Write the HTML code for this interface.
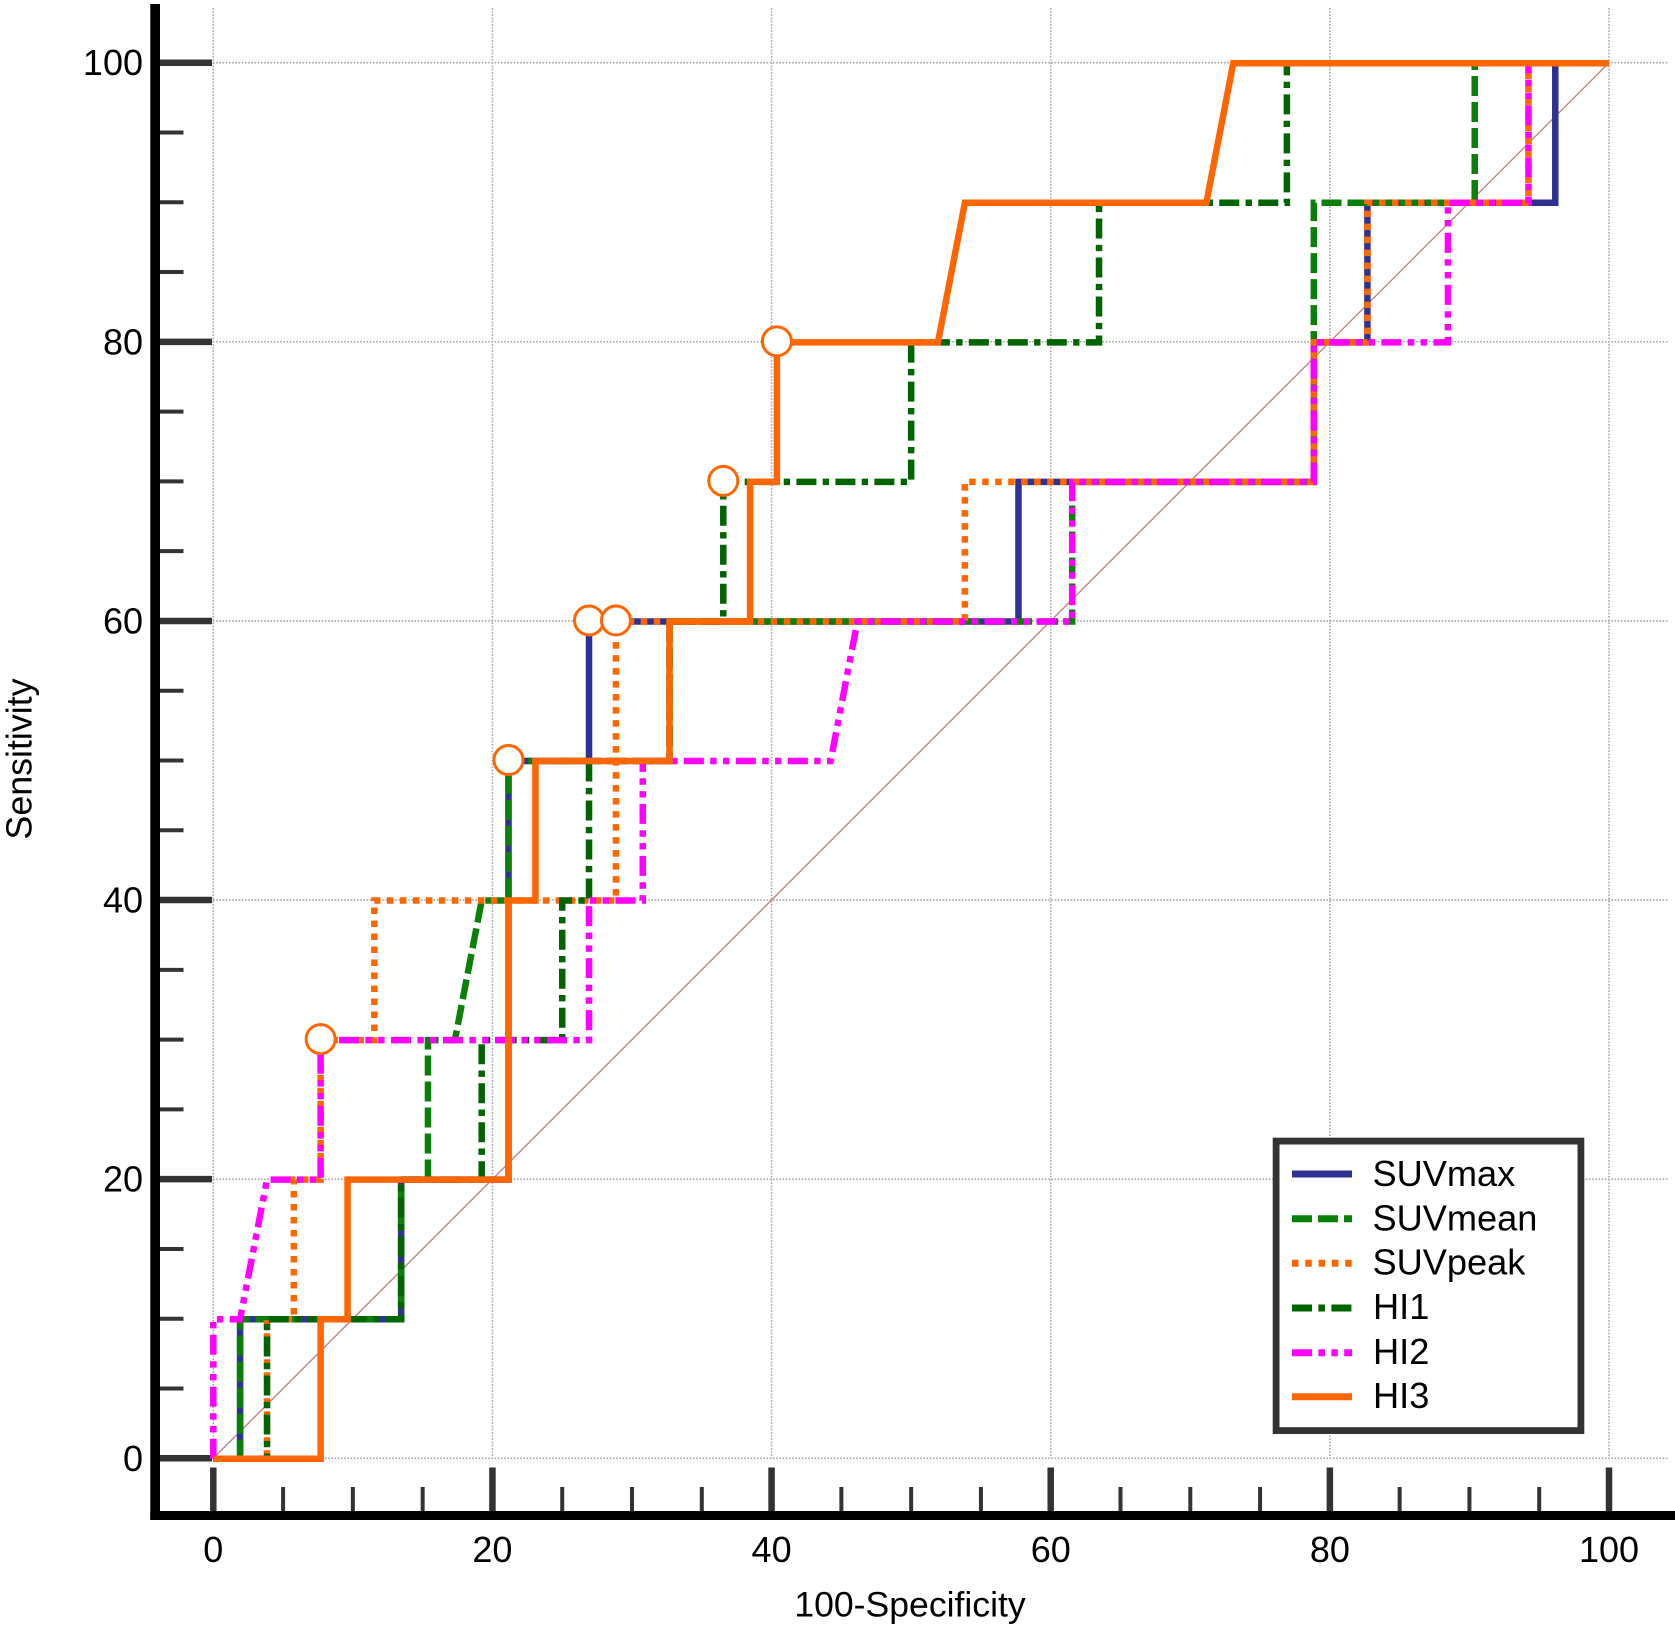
<!DOCTYPE html>
<html lang="en">
<head>
<meta charset="utf-8">
<title>ROC curves</title>
<style>
html,body{margin:0;padding:0;background:#fff;}
body{width:1675px;height:1629px;overflow:hidden;}
svg{display:block;}
text{font-family:"Liberation Sans",Arial,sans-serif;fill:#000;}
</style>
</head>
<body>
<svg id="chart" xmlns="http://www.w3.org/2000/svg" width="1675" height="1629" viewBox="0 0 1675 1629">
  <rect x="0" y="0" width="1675" height="1629" fill="#ffffff"/>
  <g id="grid"></g>
  <g id="ticks"></g>
  <line id="diag" stroke="#c48484" stroke-width="1.4"/>
  <g id="series" transform="translate(0,0.5)"></g>
  <g id="markers"></g>
  <rect x="150.3" y="4" width="9.7" height="1516" fill="#000"/>
  <rect x="150.3" y="1511" width="1524.7" height="9" fill="#000"/>
  <g id="labels"></g>
  <text x="910" y="1616.5" font-size="35.6" text-anchor="middle">100-Specificity</text>
  <text transform="translate(31.5,759) rotate(-90)" font-size="35.8" text-anchor="middle">Sensitivity</text>
  <g>
    <rect x="1276.1" y="1141.1" width="304.8" height="289.5" fill="#fff" stroke="#333" stroke-width="6.8"/>
    <g>
      <line x1="1292" x2="1352" y1="1174" y2="1174" stroke="#2e3192" stroke-width="7"/>
      <text x="1372.5" y="1186" font-size="36.2">SUVmax</text>
    </g>
    <g>
      <line x1="1292" x2="1352" y1="1218.7" y2="1218.7" stroke="#0a800a" stroke-width="7" stroke-dasharray="20 6"/>
      <text x="1372.5" y="1230.5" font-size="36.2">SUVmean</text>
    </g>
    <g>
      <line x1="1292" x2="1352" y1="1263.3" y2="1263.3" stroke="#ff6600" stroke-width="7" stroke-dasharray="6.5 6.8"/>
      <text x="1372.5" y="1274.5" font-size="36.2">SUVpeak</text>
    </g>
    <g>
      <line x1="1292" x2="1352" y1="1308" y2="1308" stroke="#006400" stroke-width="7" stroke-dasharray="20 6.4 6.6 6.4"/>
      <text x="1373" y="1319" font-size="36.2">HI1</text>
    </g>
    <g>
      <line x1="1292" x2="1352" y1="1352.7" y2="1352.7" stroke="#ff00ff" stroke-width="7" stroke-dasharray="20 6.4 6.6 6.4 6.4 6.4"/>
      <text x="1373" y="1364" font-size="36.2">HI2</text>
    </g>
    <g>
      <line x1="1292" x2="1352" y1="1396.7" y2="1396.7" stroke="#ff6600" stroke-width="7"/>
      <text x="1373" y="1408" font-size="36.2">HI3</text>
    </g>
  </g>
</svg>
<script>
const majorTicks = [0, 20, 40, 60, 80, 100];
const minorTicks = [5, 10, 15, 25, 30, 35, 45, 50, 55, 65, 70, 75, 85, 90, 95];

const suvmaxX = [0, 1.92, 1.92, 13.46, 13.46, 21.15, 21.15, 26.92, 26.92, 57.69, 57.69, 78.85, 78.85, 82.69, 82.69, 96.15, 96.15, 100];
const suvmaxY = [0, 0, 10, 10, 20, 20, 50, 50, 60, 60, 70, 70, 80, 80, 90, 90, 100, 100];

const suvmeanX = [0, 1.92, 1.92, 13.46, 13.46, 15.38, 15.38, 17.31, 19.23, 21.15, 21.15, 32.69, 32.69, 61.54, 61.54, 78.85, 78.85, 90.38, 90.38, 100];
const suvmeanY = [0, 0, 10, 10, 20, 20, 30, 30, 40, 40, 50, 50, 60, 60, 70, 70, 90, 90, 100, 100];

const suvpeakX = [0, 3.85, 3.85, 5.77, 5.77, 7.69, 7.69, 11.54, 11.54, 28.85, 28.85, 53.85, 53.85, 78.85, 78.85, 82.69, 82.69, 94.23, 94.23, 100];
const suvpeakY = [0, 0, 10, 10, 20, 20, 30, 30, 40, 40, 60, 60, 70, 70, 80, 80, 90, 90, 100, 100];

const hi1X = [0, 3.85, 3.85, 13.46, 13.46, 19.23, 19.23, 25, 25, 26.92, 26.92, 32.69, 32.69, 36.54, 36.54, 50, 50, 63.46, 63.46, 76.92, 76.92, 100];
const hi1Y = [0, 0, 10, 10, 20, 20, 30, 30, 40, 40, 50, 50, 60, 60, 70, 70, 80, 80, 90, 90, 100, 100];

const hi2X = [0, 0, 1.92, 3.85, 7.69, 7.69, 26.92, 26.92, 30.77, 30.77, 44.23, 46.15, 61.54, 61.54, 78.85, 78.85, 88.46, 88.46, 94.23, 94.23, 100];
const hi2Y = [0, 10, 10, 20, 20, 30, 30, 40, 40, 50, 50, 60, 60, 70, 70, 80, 80, 90, 90, 100, 100];

const hi3X = [0, 7.69, 7.69, 9.62, 9.62, 21.15, 21.15, 23.08, 23.08, 32.69, 32.69, 38.46, 38.46, 40.38, 40.38, 51.92, 53.85, 71.15, 73.08, 100];
const hi3Y = [0, 0, 10, 10, 20, 20, 40, 40, 50, 50, 60, 60, 70, 70, 80, 80, 90, 90, 100, 100];

const markerXs = [7.69, 21.15, 26.92, 28.85, 36.54, 40.38];
const markerYs = [30, 50, 60, 60, 70, 80];

const NS = 'http://www.w3.org/2000/svg';
function xScale(v) { return 213.3 + v * 13.957; }
function yScale(v) { return 1458.3 - v * 13.956; }

function make(tag, parent, attrs) {
  const el = document.createElementNS(NS, tag);
  for (const k in attrs) el.setAttribute(k, attrs[k]);
  parent.appendChild(el);
  return el;
}

const grid = document.getElementById('grid');
const ticks = document.getElementById('ticks');
const labels = document.getElementById('labels');

majorTicks.forEach(function (t) {
  const vg = make('line', grid, { x1: xScale(t), x2: xScale(t), y1: 8, y2: 1458, stroke: '#a8a8a8', 'stroke-width': 1.6, 'stroke-dasharray': '1.6 1.6' });
  
  
  const hg = make('line', grid, { x1: 213, x2: 1668, y1: yScale(t), y2: yScale(t), stroke: '#a8a8a8', 'stroke-width': 1.6, 'stroke-dasharray': '1.6 1.6' });
  
  

  const ty = make('line', ticks, { x1: 160, x2: 212, y1: yScale(t), y2: yScale(t), stroke: '#333', 'stroke-width': 6.5 });
  
  
  const tx = make('line', ticks, { x1: xScale(t), x2: xScale(t), y1: 1467.5, y2: 1511, stroke: '#333', 'stroke-width': 6.5 });
  
  

  const ly = make('text', labels, { x: 143, y: yScale(t) + 12.5, 'font-size': 36, 'text-anchor': 'end' });
  ly.textContent = String(t);
  
  
  const lx = make('text', labels, { x: xScale(t), y: 1562, 'font-size': 36, 'text-anchor': 'middle' });
  lx.textContent = String(t);
  
  
});

minorTicks.forEach(function (t) {
  const ty = make('line', ticks, { x1: 160, x2: 183.5, y1: yScale(t), y2: yScale(t), stroke: '#333', 'stroke-width': 4 });
  
  
  const tx = make('line', ticks, { x1: xScale(t), x2: xScale(t), y1: 1487, y2: 1511, stroke: '#333', 'stroke-width': 4 });
  
  
});

const diag = document.getElementById('diag');
diag.setAttribute('x1', xScale(0));
diag.setAttribute('y1', yScale(0));
diag.setAttribute('x2', xScale(100));
diag.setAttribute('y2', yScale(100));

function curvePath(xs, ys) {
  return xs.map(function (x, i) {
    return (i ? 'L' : 'M') + xScale(x).toFixed(2) + ' ' + yScale(ys[i]).toFixed(2);
  }).join(' ');
}

const seriesGroup = document.getElementById('series');

const pathSuvmax = make('path', seriesGroup, { d: curvePath(suvmaxX, suvmaxY), fill: 'none', stroke: '#2e3192', 'stroke-width': 6.5 });



const pathSuvmean = make('path', seriesGroup, { d: curvePath(suvmeanX, suvmeanY), fill: 'none', stroke: '#0a800a', 'stroke-width': 6.5, 'stroke-dasharray': '20 6' });



const pathSuvpeak = make('path', seriesGroup, { d: curvePath(suvpeakX, suvpeakY), fill: 'none', stroke: '#ff6600', 'stroke-width': 6.5, 'stroke-dasharray': '6.5 6.5', 'stroke-dashoffset': -3.8 });



const pathHi1 = make('path', seriesGroup, { d: curvePath(hi1X, hi1Y), fill: 'none', stroke: '#006400', 'stroke-width': 6.5, 'stroke-dasharray': '20 6.33 6.34 6.33' });



const pathHi2 = make('path', seriesGroup, { d: curvePath(hi2X, hi2Y), fill: 'none', stroke: '#ff00ff', 'stroke-width': 6.5, 'stroke-dasharray': '20 6.4 6.4 6.4 6.4 6.4' });



const pathHi3 = make('path', seriesGroup, { d: curvePath(hi3X, hi3Y), fill: 'none', stroke: '#ff6600', 'stroke-width': 6.5 });



const markerGroup = document.getElementById('markers');
markerXs.forEach(function (x, i) {
  const c = make('circle', markerGroup, { cx: xScale(x), cy: yScale(markerYs[i]) - 0.5, r: 14.5, fill: '#fff', stroke: '#ff6600', 'stroke-width': 3 });
  
  
});
</script>
</body>
</html>
